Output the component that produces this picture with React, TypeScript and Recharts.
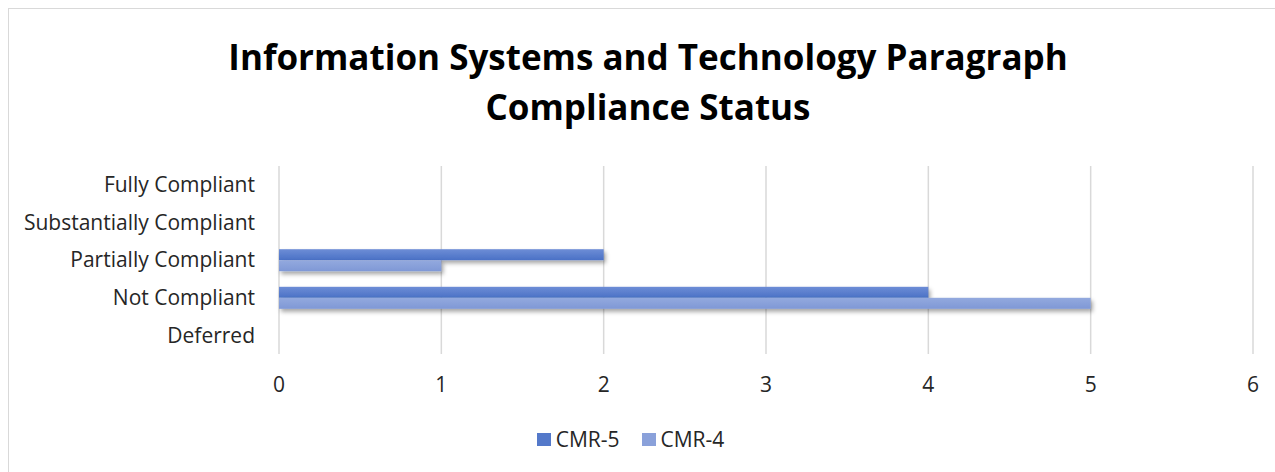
import { BarChart, Bar, XAxis, YAxis, CartesianGrid, Legend } from 'recharts';

const categories = [
  'Fully Compliant',
  'Substantially Compliant',
  'Partially Compliant',
  'Not Compliant',
  'Deferred',
];
const cmr5Values = [0, 0, 2, 4, 0];
const cmr4Values = [0, 0, 1, 5, 0];
const xTicks = [0, 1, 2, 3, 4, 5, 6];

const series = [
  { key: 'cmr5', name: 'CMR-5', fill: 'url(#gradCmr5)', swatch: '#5479CA' },
  { key: 'cmr4', name: 'CMR-4', fill: 'url(#gradCmr4)', swatch: '#8AA1DA' },
];

const data = categories.map((name, i) => ({
  name,
  cmr5: cmr5Values[i],
  cmr4: cmr4Values[i],
}));

const FONT = '"Open Sans", Lato, sans-serif';

const ShadowBar = (props: any) => {
  const { x, y, width, height, fill } = props;
  if (!width || width <= 0) return null;
  return <rect x={x} y={y} width={width} height={height} fill={fill} filter="url(#barShadow)" />;
};

const LegendContent = () => (
  <div style={{ display: 'flex', justifyContent: 'center', alignItems: 'center', gap: 22, height: 24 }}>
    {series.map((s) => (
      <div key={s.key} style={{ display: 'flex', alignItems: 'center' }}>
        <span style={{ display: 'inline-block', width: 14, height: 13, background: s.swatch, marginRight: 5 }} />
        <span style={{ fontFamily: FONT, fontSize: 21, color: '#262626', lineHeight: '24px' }}>{s.name}</span>
      </div>
    ))}
  </div>
);

export default function App() {
  return (
    <div
      style={{
        position: 'absolute',
        left: 8,
        top: 8,
        width: 1267,
        height: 464,
        borderTop: '1px solid #D9D9D9',
        borderLeft: '1px solid #D9D9D9',
        boxSizing: 'border-box',
        background: '#fff',
        fontFamily: FONT,
      }}
    >
      <div
        style={{
          position: 'absolute',
          top: 23,
          left: 0,
          width: 1278,
          textAlign: 'center',
          fontFamily: FONT,
          fontWeight: 700,
          fontSize: 35,
          lineHeight: '50px',
          color: '#000',
        }}
      >
        Information Systems and Technology Paragraph
        <br />
        Compliance Status
      </div>
      <div style={{ position: 'absolute', left: -1, top: -1 }}>
        <BarChart
          width={1267}
          height={464}
          data={data}
          layout="vertical"
          margin={{ top: 158, right: 22, left: 0, bottom: 21 }}
          barSize={11}
          barGap={0}
        >
          <defs>
            <linearGradient id="gradCmr5" x1="0" y1="0" x2="0" y2="1">
              <stop offset="0%" stopColor="#6D8DD6" />
              <stop offset="100%" stopColor="#4A71C6" />
            </linearGradient>
            <linearGradient id="gradCmr4" x1="0" y1="0" x2="0" y2="1">
              <stop offset="0%" stopColor="#93A9DE" />
              <stop offset="100%" stopColor="#7F98D6" />
            </linearGradient>
            <filter id="barShadow" x="-5%" y="-50%" width="110%" height="250%">
              <feDropShadow dx="2" dy="3" stdDeviation="2" floodColor="#000" floodOpacity="0.35" />
            </filter>
          </defs>
          <CartesianGrid horizontal={false} stroke="#D9D9D9" strokeWidth={1.5} />
          <XAxis
            type="number"
            domain={[0, 6]}
            ticks={xTicks}
            interval={0}
            axisLine={false}
            tickLine={false}
            tickSize={0}
            tickMargin={23}
            height={73}
            tick={{ fill: '#262626', fontSize: 21, fontFamily: FONT }}
          />
          <YAxis
            type="category"
            dataKey="name"
            width={271}
            axisLine={false}
            tickLine={false}
            tickSize={0}
            tickMargin={24}
            interval={0}
            tick={{ fill: '#262626', fontSize: 21, fontFamily: FONT }}
          />
          <Legend verticalAlign="bottom" content={<LegendContent />} />
          {series.map((s) => (
            <Bar
              key={s.key}
              dataKey={s.key}
              name={s.name}
              fill={s.fill}
              shape={<ShadowBar />}
              isAnimationActive={false}
            />
          ))}
        </BarChart>
      </div>
    </div>
  );
}
